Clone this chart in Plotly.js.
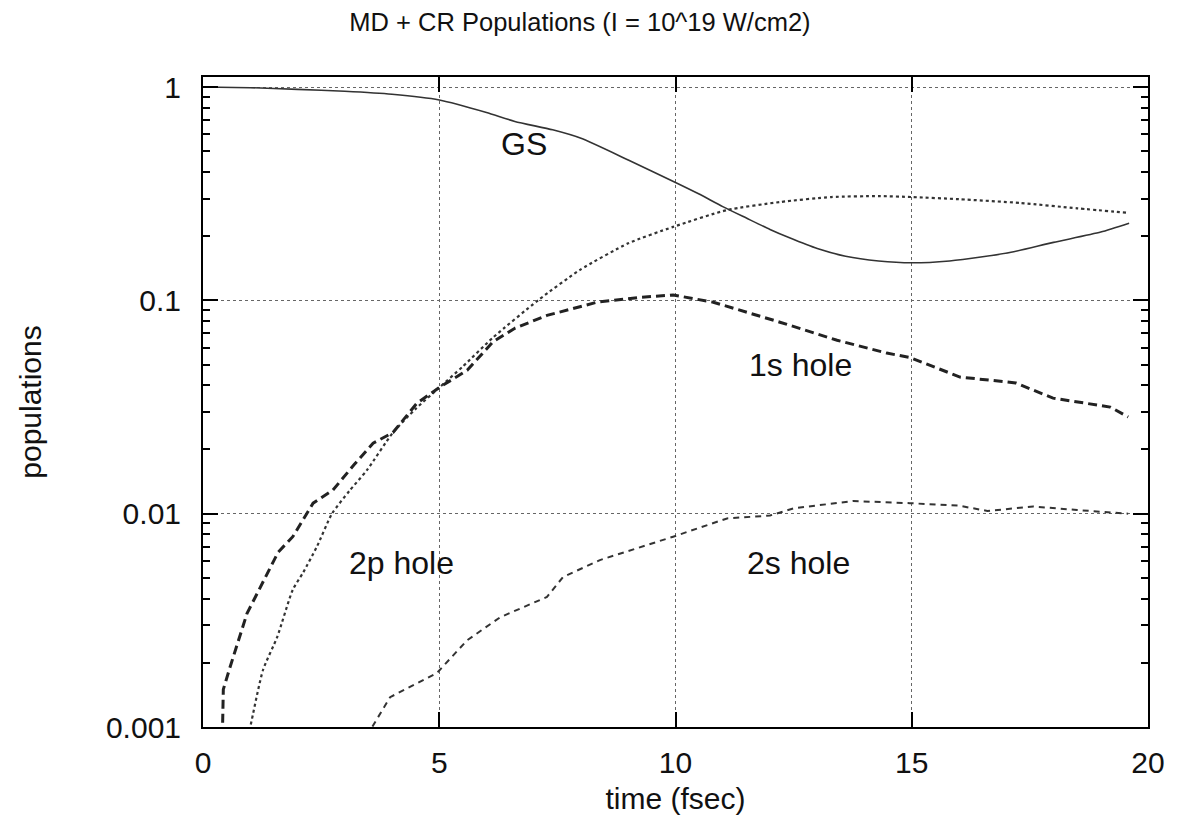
<!DOCTYPE html>
<html>
<head>
<meta charset="utf-8">
<script src="https://cdn.plot.ly/plotly-3.0.1.min.js"></script>
<style>html,body{margin:0;padding:0;background:#fff;}#chart{width:1180px;height:829px;}</style>
</head>
<body>
<div id="chart"></div>
<script>
// Ground state (solid)
var gsTime = [0, 1, 2, 3, 4, 5, 6, 6.6, 7.4, 8, 9, 10, 10.5, 11, 11.5, 12, 12.4, 13, 13.6, 14.3, 15, 15.8, 16.5, 17.1, 18, 19, 19.6];
var gsPop  = [1.0, 0.993, 0.975, 0.955, 0.925, 0.87, 0.76, 0.69, 0.63, 0.575, 0.455, 0.357, 0.315, 0.275, 0.243, 0.215, 0.197, 0.175, 0.161, 0.153, 0.150, 0.153, 0.160, 0.168, 0.187, 0.209, 0.23];

// 2p hole (dotted)
var p2Time = [0.9, 1.0, 1.27, 1.57, 1.9, 2.12, 2.41, 2.73, 3.1, 3.47, 4.02, 4.5, 5.0, 5.5, 6.14, 7.09, 7.98, 9.0, 9.95, 11.09, 12.21, 13.3, 14.3, 15.0, 16.0, 17.3, 18.5, 19.6];
var p2Pop  = [0.0008, 0.001, 0.00185, 0.00264, 0.0044, 0.0053, 0.0070, 0.010, 0.0128, 0.016, 0.024, 0.031, 0.039, 0.049, 0.067, 0.10, 0.139, 0.185, 0.221, 0.265, 0.289, 0.305, 0.308, 0.305, 0.298, 0.286, 0.27, 0.257];

// 1s hole (thick dashed)
var s1Time = [0.41, 0.43, 0.57, 0.93, 1.59, 1.9, 2.33, 2.75, 3.2, 3.6, 4.02, 4.53, 5.02, 5.59, 6.14, 6.6, 7.28, 8.34, 9.2, 9.95, 10.8, 11.5, 12.21, 13.42, 14.47, 14.96, 16.02, 17.2, 17.99, 19.2, 19.58];
var s1Pop  = [0.0009, 0.0015, 0.0019, 0.0034, 0.0066, 0.0078, 0.0112, 0.0129, 0.017, 0.0214, 0.024, 0.033, 0.0393, 0.047, 0.064, 0.074, 0.085, 0.098, 0.103, 0.106, 0.098, 0.088, 0.079, 0.065, 0.0566, 0.054, 0.0437, 0.041, 0.0348, 0.0316, 0.0284];

// 2s hole (short dashed)
var s2Time = [3.5, 3.58, 3.96, 4.95, 5.59, 6.29, 7.28, 7.62, 8.4, 9.95, 11.09, 12.0, 12.5, 13.76, 14.96, 16.0, 16.6, 17.57, 18.5, 19.58];
var s2Pop  = [0.0009, 0.001, 0.00138, 0.00179, 0.00255, 0.00327, 0.00407, 0.00505, 0.00606, 0.0078, 0.0095, 0.0098, 0.0106, 0.01146, 0.0112, 0.0109, 0.0103, 0.0108, 0.0104, 0.0100];

var yTickVals = [0.001, 0.01, 0.1, 1];
var yTickText = ['0.001', '0.01', '0.1', '1'];
var xTickVals = [0, 5, 10, 15, 20];

var labelText = ['GS', '1s hole', '2p hole', '2s hole'];
var labelX = [6.8, 12.65, 4.2, 12.6];
var labelY = [0.54, 0.05, 0.0059, 0.0059];

var FONT = 'Liberation Sans, Arial, Helvetica, sans-serif';

var traces = [
  {x: gsTime, y: gsPop, mode: 'lines', line: {color: '#333', width: 1.6, dash: 'solid', shape: 'spline', smoothing: 0.6}},
  {x: p2Time, y: p2Pop, mode: 'lines', line: {color: '#333', width: 2.2, dash: 'dot', shape: 'spline', smoothing: 0.6}},
  {x: s1Time, y: s1Pop, mode: 'lines', line: {color: '#222', width: 3, dash: '9px,5px'}},
  {x: s2Time, y: s2Pop, mode: 'lines', line: {color: '#333', width: 2, dash: '6px,5px'}}
];

var annotations = labelText.map(function (t, i) {
  return {x: labelX[i], y: Math.log10(labelY[i]), xref: 'x', yref: 'y', text: t, showarrow: false,
          font: {family: FONT, size: 32, color: '#111'}, xanchor: 'center', yanchor: 'middle'};
});

var layout = {
  width: 1180, height: 829,
  margin: {l: 203, r: 32, t: 77, b: 102},
  paper_bgcolor: '#fff', plot_bgcolor: '#fff',
  showlegend: false,
  font: {family: FONT, color: '#111', size: 30},
  title: {text: 'MD + CR Populations (I = 10^19 W/cm2)', font: {family: FONT, size: 25.5, color: '#111'},
          x: 0.4915, xanchor: 'center', xref: 'container', y: 0.973, yanchor: 'middle', yref: 'container'},
  xaxis: {
    range: [0, 20], tickmode: 'array', tickvals: xTickVals, ticktext: xTickVals.map(String),
    ticks: 'inside', ticklen: 15, tickwidth: 2, tickcolor: '#000',
    showline: true, linewidth: 2, linecolor: '#000', mirror: 'ticks',
    showgrid: true, gridcolor: '#666', griddash: 'dot', gridwidth: 1,
    zeroline: false, ticklabelstandoff: 8,
    tickfont: {family: FONT, size: 30, color: '#111'},
    title: {text: 'time (fsec)', font: {family: FONT, size: 30, color: '#111'}, standoff: 10}
  },
  yaxis: {
    type: 'log', range: [-3, 0.047], tickmode: 'array', tickvals: yTickVals, ticktext: yTickText,
    ticks: 'inside', ticklen: 15, tickwidth: 2, tickcolor: '#000',
    minor: {ticks: 'inside', ticklen: 7, tickwidth: 2, tickcolor: '#000', dtick: 'D1', showgrid: false},
    showline: true, linewidth: 2, linecolor: '#000', mirror: 'ticks',
    showgrid: true, gridcolor: '#666', griddash: 'dot', gridwidth: 1,
    zeroline: false, ticklabelstandoff: 14,
    tickfont: {family: FONT, size: 30, color: '#111'},
    title: {text: 'populations', font: {family: FONT, size: 30, color: '#111'}, standoff: 55}
  },
  annotations: annotations
};

Plotly.newPlot('chart', traces, layout, {staticPlot: true, displayModeBar: false});
</script>
</body>
</html>
